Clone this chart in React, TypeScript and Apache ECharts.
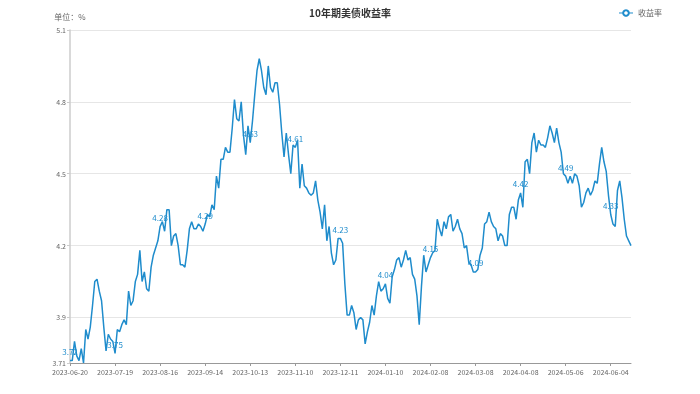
import React, { useEffect, useRef } from "react";
import * as echarts from "echarts";

const startDate = "2023-06-20";
const marketHolidays = [
  "2023-07-04", "2023-09-04", "2023-10-09", "2023-11-23", "2023-12-25",
  "2024-01-01", "2024-01-15", "2024-02-19", "2024-03-29", "2024-05-27",
];

const yields = [
  3.72, 3.72, 3.80, 3.74, 3.72, 3.77, 3.71, 3.85, 3.81, 3.86,
  3.95, 4.05, 4.06, 4.01, 3.97, 3.86, 3.76, 3.83, 3.81, 3.80,
  3.75, 3.85, 3.84, 3.87, 3.89, 3.87, 4.01, 3.95, 3.97, 4.05,
  4.08, 4.18, 4.05, 4.09, 4.02, 4.01, 4.11, 4.16, 4.19, 4.22,
  4.28, 4.30, 4.26, 4.35, 4.35, 4.20, 4.24, 4.25, 4.20, 4.12,
  4.12, 4.11, 4.18, 4.27, 4.30, 4.27, 4.27, 4.29, 4.28, 4.26,
  4.29, 4.33, 4.32, 4.37, 4.35, 4.49, 4.44, 4.56, 4.56, 4.61,
  4.59, 4.59, 4.69, 4.81, 4.73, 4.72, 4.80, 4.66, 4.58, 4.70,
  4.63, 4.72, 4.83, 4.93, 4.98, 4.93, 4.86, 4.83, 4.95, 4.86,
  4.84, 4.88, 4.88, 4.79, 4.67, 4.57, 4.67, 4.58, 4.50, 4.62,
  4.61, 4.64, 4.44, 4.54, 4.45, 4.44, 4.42, 4.41, 4.42, 4.47,
  4.39, 4.34, 4.27, 4.37, 4.22, 4.28, 4.17, 4.12, 4.14, 4.23,
  4.23, 4.21, 4.04, 3.91, 3.91, 3.95, 3.92, 3.85, 3.89, 3.90,
  3.89, 3.79, 3.84, 3.88, 3.95, 3.91, 3.99, 4.05, 4.01, 4.02,
  4.04, 3.98, 3.96, 4.07, 4.10, 4.14, 4.15, 4.11, 4.14, 4.18,
  4.14, 4.15, 4.08, 4.06, 3.99, 3.87, 4.03, 4.16, 4.09, 4.12,
  4.15, 4.17, 4.18, 4.31, 4.27, 4.24, 4.30, 4.27, 4.32, 4.33,
  4.26, 4.28, 4.31, 4.27, 4.25, 4.19, 4.20, 4.13, 4.12, 4.09,
  4.09, 4.10, 4.16, 4.19, 4.29, 4.30, 4.34, 4.30, 4.28, 4.27,
  4.22, 4.25, 4.24, 4.20, 4.20, 4.33, 4.36, 4.36, 4.31, 4.39,
  4.42, 4.36, 4.55, 4.56, 4.50, 4.63, 4.67, 4.59, 4.64, 4.62,
  4.62, 4.61, 4.65, 4.70, 4.67, 4.63, 4.69, 4.63, 4.59, 4.50,
  4.49, 4.46, 4.49, 4.46, 4.50, 4.49, 4.45, 4.36, 4.38, 4.42,
  4.44, 4.41, 4.43, 4.47, 4.46, 4.54, 4.61, 4.55, 4.51, 4.41,
  4.33, 4.29, 4.28, 4.43, 4.47, 4.40, 4.31, 4.24, 4.22, 4.20,
];

const yMin = 3.71;
const yMax = 5.1;
const labelEvery = 20;

function tradingDays(start: string, n: number, skip: string[]): string[] {
  const out: string[] = [];
  const d = new Date(start + "T00:00:00Z");
  while (out.length < n) {
    const wd = d.getUTCDay();
    const s = d.toISOString().slice(0, 10);
    if (wd !== 0 && wd !== 6 && !skip.includes(s)) out.push(s);
    d.setUTCDate(d.getUTCDate() + 1);
  }
  return out;
}

const dates = tradingDays(startDate, yields.length, marketHolidays);

const LINE = "#1f8ccc";
const FONT = "'Noto Sans CJK SC', 'Noto Sans', sans-serif";

export default function App() {
  const ref = useRef<HTMLDivElement>(null);
  useEffect(() => {
    if (!ref.current) return;
    const chart = echarts.init(ref.current, undefined, { renderer: "svg" });
    chart.setOption({
      animation: false,
      textStyle: { fontFamily: FONT },
      title: {
        text: "10年期美债收益率",
        left: "center",
        top: 2,
        textStyle: { fontSize: 10, fontWeight: "bold", color: "#333", fontFamily: FONT },
      },
      legend: {
        right: 33,
        top: 4,
        itemWidth: 14,
        itemHeight: 7,
        itemGap: 5,
        itemStyle: { borderWidth: 1 },
        lineStyle: { width: 1 },
        textStyle: { fontSize: 8, color: "#666" },
        data: ["收益率"],
      },
      grid: { left: 70, right: 69, top: 30, bottom: 31, containLabel: false },
      xAxis: {
        type: "category",
        boundaryGap: false,
        data: dates,
        axisLine: { lineStyle: { color: "#999" } },
        axisTick: { interval: labelEvery - 1, length: 3, lineStyle: { color: "#999" } },
        axisLabel: { interval: labelEvery - 1, fontSize: 7, color: "#666", margin: 5 },
      },
      yAxis: {
        type: "value",
        min: yMin,
        max: yMax,
        name: "单位：%",
        nameGap: 10,
        nameTextStyle: { fontSize: 8, color: "#666" },
        axisLine: { show: true, lineStyle: { color: "#ccc", width: 1.5 } },
        axisTick: { show: true, length: 3, lineStyle: { color: "#ccc" } },
        axisLabel: { fontSize: 7, color: "#666", margin: 4 },
        splitLine: { lineStyle: { color: "#e6e6e6" } },
      },
      series: [
        {
          name: "收益率",
          type: "line",
          data: yields,
          symbol: "emptyCircle",
          symbolSize: 0,
          showSymbol: true,
          showAllSymbol: true,
          lineStyle: { color: LINE, width: 1.5 },
          itemStyle: { color: LINE },
          label: {
            show: true,
            position: "top",
            fontSize: 8,
            color: LINE,
            formatter: (p: any) => (p.dataIndex % labelEvery === 0 ? String(p.value) : ""),
          },
        },
      ],
    });
    return () => chart.dispose();
  }, []);
  return (
    <div
      ref={ref}
      style={{ position: "fixed", left: 0, top: 0, width: 700, height: 394 }}
    />
  );
}
